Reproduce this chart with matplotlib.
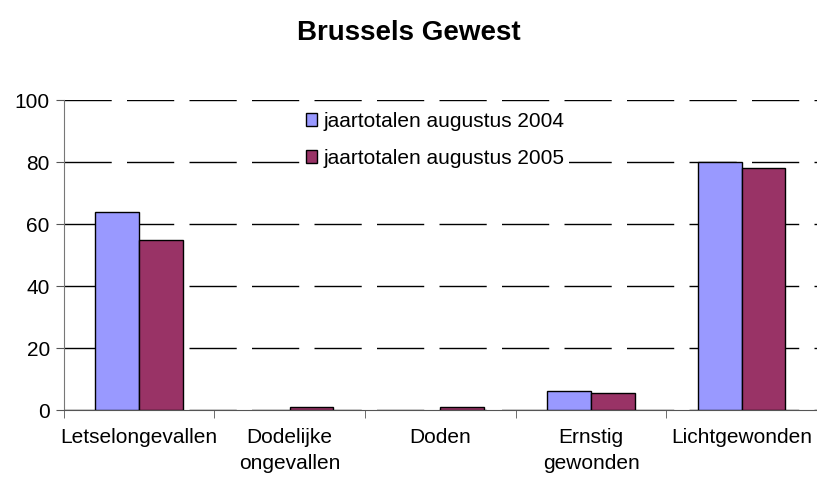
import numpy as np
import matplotlib.pyplot as plt

plt.rcParams['font.family'] = ['Liberation Sans', 'DejaVu Sans']

# data
categories = ['Letselongevallen', 'Dodelijke\nongevallen', 'Doden', 'Ernstig\ngewonden', 'Lichtgewonden']
values_2004 = [64, 0, 0, 6.2, 80]
values_2005 = [55, 1, 1, 5.6, 78]
labels = ['jaartotalen augustus 2004', 'jaartotalen augustus 2005']
colors = ['#9999ff', '#993366']

fig = plt.figure(figsize=(8.17, 4.86), dpi=100)
ax = fig.add_axes([0.078, 0.156, 0.922, 0.638])

x = np.arange(len(categories))
w = 0.29
for off, vals, col, lab in [(-w / 2, values_2004, colors[0], labels[0]),
                            (w / 2, values_2005, colors[1], labels[1])]:
    lws = [1 if v > 0 else 0 for v in vals]
    ax.bar(x + off, vals, w, color=col, edgecolor='black', linewidth=lws, label=lab, zorder=3)

ax.set_xlim(-0.5, len(categories) - 0.5)
ax.set_ylim(0, 100)
ax.set_yticks(range(0, 101, 20))
ax.yaxis.grid(True, color='black', linewidth=1, dashes=(34, 11), zorder=0)

# category labels between the boundary ticks
ax.set_xticks(x)
ax.set_xticklabels(categories, fontsize=15, linespacing=1.45)
ax.tick_params(axis='x', length=0, pad=13)
ax.set_xticks(np.arange(len(categories) + 1) - 0.5, minor=True)
ax.tick_params(axis='x', which='minor', length=6, color='#555555')
ax.tick_params(axis='y', labelsize=15, length=6, direction='out', color='#555555', pad=4)

for s in ['top', 'right']:
    ax.spines[s].set_visible(False)
ax.spines['left'].set_color('#777777')
ax.spines['bottom'].set_color('#555555')

fig.text(0.5, 0.932, 'Brussels Gewest', ha='center', va='center', fontsize=20, fontweight='bold')

leg = ax.legend(loc='upper left', bbox_to_anchor=(0.316, 0.975), frameon=True, fontsize=15,
                handlelength=0.55, handleheight=0.55, handletextpad=0.3, labelspacing=0.85,
                borderaxespad=0.0, borderpad=0.2, fancybox=False, framealpha=1)
leg.get_frame().set_facecolor('white')
leg.get_frame().set_edgecolor('none')
leg.set_zorder(5)

fig.savefig('out.png', dpi=100)
